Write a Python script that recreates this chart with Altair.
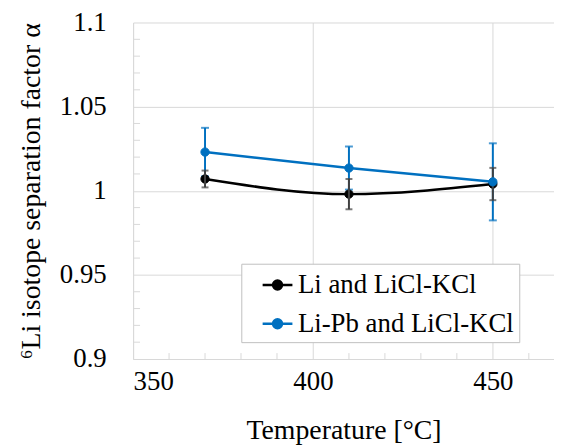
import altair as alt
import pandas as pd

# ---- data ----
temps = [370, 410, 450]
series_names = ["Li and LiCl-KCl", "Li-Pb and LiCl-KCl"]
li_alpha = [1.007, 0.998, 1.004]
li_err = [0.005, 0.009, 0.0096]
lipb_alpha = [1.023, 1.0135, 1.0053]
lipb_err = [0.0144, 0.0128, 0.0229]
x_ticks = [350, 400, 450]
y_ticks = [0.9, 0.95, 1.0, 1.05, 1.1]
x_minor = [360, 370, 380, 390, 410, 420, 430, 440, 460]
y_minor = [0.91, 0.92, 0.93, 0.94, 0.96, 0.97, 0.98, 0.99,
           1.01, 1.02, 1.03, 1.04, 1.06, 1.07, 1.08, 1.09]

rows = []
for name, vals, errs in [(series_names[0], li_alpha, li_err),
                         (series_names[1], lipb_alpha, lipb_err)]:
    for t, v, e in zip(temps, vals, errs):
        rows.append({"series": name, "T": t, "alpha": v, "lo": v - e, "hi": v + e})
df = pd.DataFrame(rows)
df_li = df[df.series == series_names[0]]
df_pb = df[df.series == series_names[1]]

FONT = "Liberation Serif"
BLACK = "#000000"
BLUE = "#0070C0"
ERRGRAY = "#404040"
GRID = "#d9d9d9"

xscale = alt.Scale(domain=[350, 467], nice=False, zero=False)
yscale = alt.Scale(domain=[0.9, 1.1], nice=False, zero=False)
cscale = alt.Scale(domain=series_names, range=[BLACK, BLUE])

x_axis = alt.Axis(values=x_ticks, grid=True, gridColor=GRID, domainColor=GRID,
                  ticks=False, tickSize=0, labelPadding=10, labelFontSize=27,
                  titleFontSize=28, titlePadding=22,
                  labelColor="black", titleColor="black", titleFontWeight="normal",
                  title="Temperature [°C]", format="d")
y_axis = alt.Axis(values=y_ticks, grid=True, gridColor=GRID, domainColor=GRID,
                  ticks=False, tickSize=0, labelPadding=27, labelFontSize=27,
                  titleFontSize=28, titlePadding=14,
                  labelColor="black", titleColor="black", titleFontWeight="normal",
                  title="⁶Li isotope separation factor α", format=".2~f")


def X(f):
    return alt.X(f"{f}:Q", scale=xscale, axis=x_axis)


def Y(f):
    return alt.Y(f"{f}:Q", scale=yscale, axis=y_axis)


def err_layers(d, color, cap):
    base = alt.Chart(d)
    bar = base.mark_rule(color=color, strokeWidth=2).encode(x=X("T"), y=Y("lo"), y2="hi:Q")
    lo = base.mark_tick(color=color, orient="horizontal", size=cap, thickness=2).encode(
        x=X("T"), y=Y("lo"))
    hi = base.mark_tick(color=color, orient="horizontal", size=cap, thickness=2).encode(
        x=X("T"), y=Y("hi"))
    return [bar, lo, hi]


ymin = alt.Chart(pd.DataFrame({"v": y_minor})).mark_rule(color=GRID, strokeWidth=1).encode(
    y=Y("v"), x=alt.value(0), x2=alt.value(7))
xmin = alt.Chart(pd.DataFrame({"v": x_minor})).mark_rule(color=GRID, strokeWidth=1).encode(
    x=X("v"), y=alt.value(339), y2=alt.value(333))

line_li = alt.Chart(df_li).mark_line(color=BLACK, strokeWidth=2.5, interpolate="monotone").encode(
    x=X("T"), y=Y("alpha"))
line_pb = alt.Chart(df_pb).mark_line(color=BLUE, strokeWidth=2.5).encode(
    x=X("T"), y=Y("alpha"))

sym = "M-1,0L1,0M-0.3,0A0.3,0.3,0,1,0,0.3,0A0.3,0.3,0,1,0,-0.3,0Z"
legend = alt.Legend(title=None, orient="none", legendX=109, legendY=243,
                    symbolType=sym, symbolSize=900, symbolStrokeWidth=2.5,
                    labelFontSize=27, labelColor="black", labelLimit=500,
                    padding=5, rowPadding=9, symbolOffset=15, labelOffset=4,
                    strokeColor="#bfbfbf", fillColor="white",
                    labelExpr="datum.label + '\u2002'")


def points(d):
    return alt.Chart(d).mark_point(filled=True, size=70, shape="circle", strokeWidth=1, opacity=1).encode(
        x=X("T"), y=Y("alpha"),
        color=alt.Color("series:N", scale=cscale, legend=legend),
        stroke=alt.Stroke("series:N", scale=cscale, legend=legend))


layers = [ymin, xmin] + err_layers(df_pb, BLUE, 8) + [line_li, points(df_li)] \
    + err_layers(df_li, ERRGRAY, 7) + [line_pb, points(df_pb)]

chart = alt.layer(*layers).properties(
    width=424, height=339,
    padding={"left": 126, "top": 13, "right": 0, "bottom": 86},
    autosize=alt.AutoSizeParams(type="none"),
).configure(font=FONT).configure_view(stroke=None).configure_axis(
    labelFont=FONT, titleFont=FONT
).configure_legend(labelFont=FONT)

chart.save("out.html", embed_options={"renderer": "svg", "actions": False})
